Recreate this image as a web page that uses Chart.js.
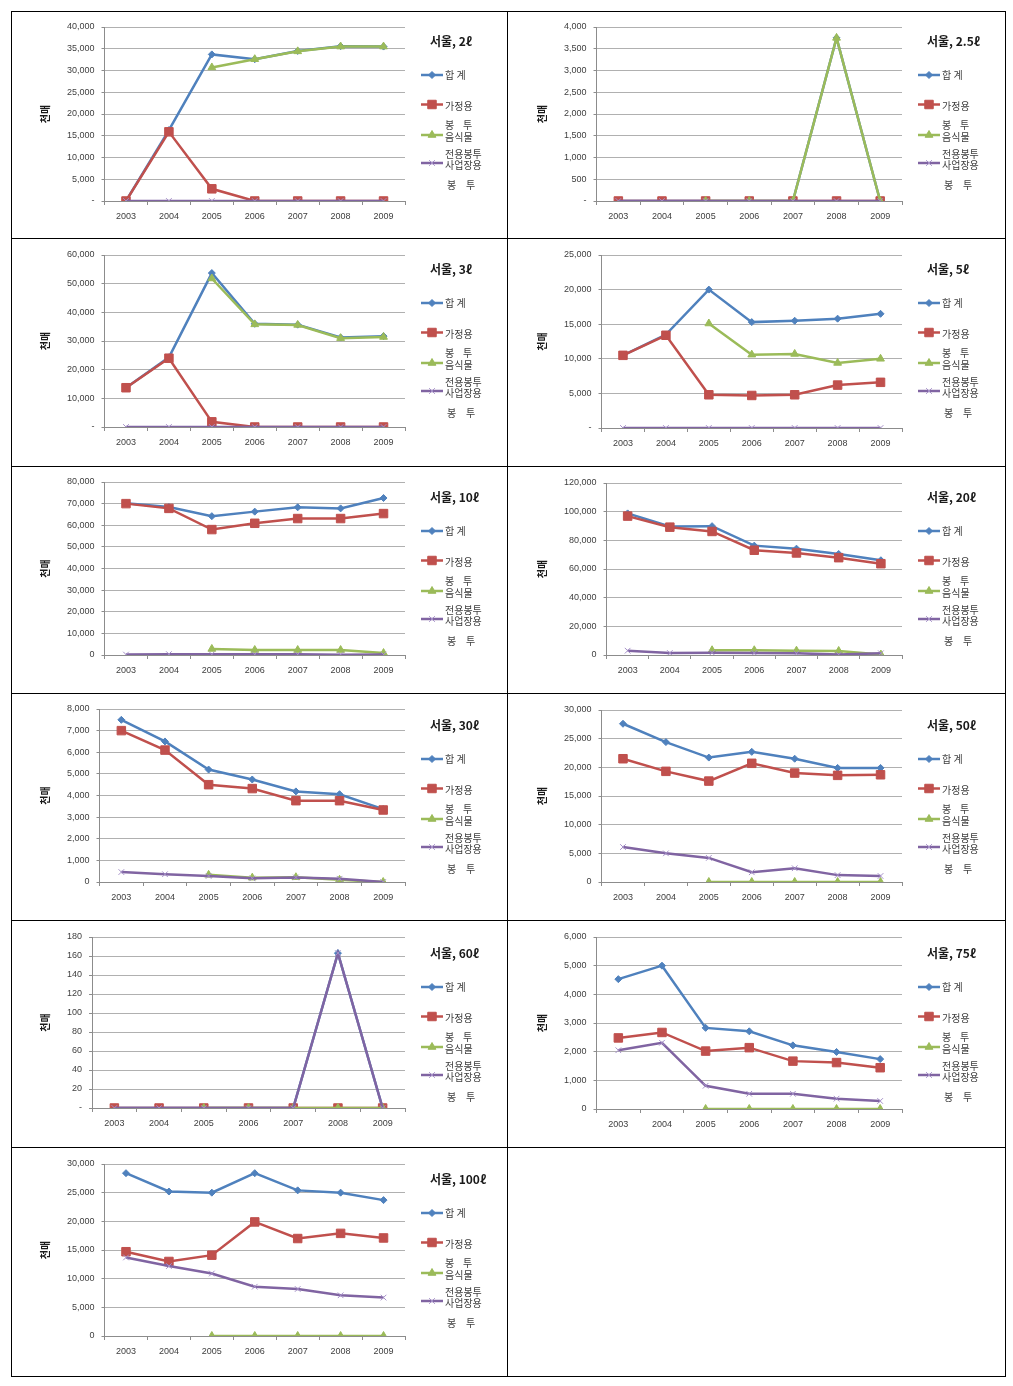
<!DOCTYPE html>
<html><head><meta charset="utf-8">
<script src="https://cdn.jsdelivr.net/npm/chart.js@4.4.1/dist/chart.umd.min.js"></script>
<style>
html,body{margin:0;padding:0;background:#fff;}
#page{position:relative;width:1013px;height:1386px;overflow:hidden;background:#fff;}
canvas{position:absolute;}
.hl{position:absolute;height:1px;background:#000;z-index:5;}
.vl{position:absolute;width:1px;background:#000;z-index:5;}
</style></head><body><div id="page"></div>
<script>
// ---------- data ----------
const years = ['2003','2004','2005','2006','2007','2008','2009'];
const seriesNames = ['합 계', '가정용 봉 투', '음식물 전용봉투', '사업장용 봉 투'];
const yTitle = '천매';

// 서울, 2ℓ
const total_2 = [0, 16300, 33700, 32600, 34500, 35600, 35500];
const house_2 = [0, 15900, 2800, 0, 0, 0, 0];
const food_2  = [null, null, 30700, 32600, 34400, 35500, 35500];
const biz_2   = [0, 0, 0, 0, 0, 0, 0];
// 서울, 2.5ℓ
const total_25 = [0, 0, 0, 0, 0, 3750, 0];
const house_25 = [0, 0, 0, 0, 0, 0, 0];
const food_25  = [null, null, 0, 0, 0, 3750, 0];
const biz_25   = [0, 0, 0, 0, 0, 0, 0];
// 서울, 3ℓ
const total_3 = [13700, 24300, 53700, 36000, 35700, 31200, 31700];
const house_3 = [13700, 24000, 1800, 0, 0, 0, 0];
const food_3  = [null, null, 51800, 35800, 35600, 31000, 31400];
const biz_3   = [0, 0, 0, 0, 0, 0, 0];
// 서울, 5ℓ
const total_5 = [10500, 13500, 20000, 15300, 15500, 15800, 16500];
const house_5 = [10500, 13400, 4800, 4700, 4800, 6200, 6600];
const food_5  = [null, null, 15100, 10600, 10700, 9400, 10000];
const biz_5   = [0, 0, 0, 0, 0, 0, 0];
// 서울, 10ℓ
const total_10 = [70200, 68400, 64200, 66300, 68300, 67800, 72600];
const house_10 = [70000, 67800, 58000, 60900, 63100, 63100, 65400];
const food_10  = [null, null, 2800, 2300, 2300, 2300, 900];
const biz_10   = [200, 400, 300, 300, 300, 100, 200];
// 서울, 20ℓ
const total_20 = [98800, 89700, 89900, 76300, 74200, 70500, 66100];
const house_20 = [96900, 89200, 86200, 73100, 71200, 67900, 63700];
const food_20  = [null, null, 3300, 3300, 3000, 2800, 300];
const biz_20   = [3000, 1400, 1600, 1400, 1200, 300, 1200];
// 서울, 30ℓ
const total_30 = [7500, 6500, 5200, 4740, 4190, 4060, 3370];
const house_30 = [7000, 6100, 4500, 4320, 3760, 3760, 3330];
const food_30  = [null, null, 330, 200, 220, 100, 0];
const biz_30   = [460, 360, 280, 170, 210, 150, 0];
// 서울, 50ℓ
const total_50 = [27600, 24400, 21700, 22700, 21500, 19900, 19900];
const house_50 = [21500, 19300, 17600, 20700, 19000, 18600, 18700];
const food_50  = [null, null, 0, 0, 0, 0, 0];
const biz_50   = [6100, 5000, 4200, 1700, 2400, 1200, 1050];
// 서울, 60ℓ
const total_60 = [0, 0, 0, 0, 0, 163, 0];
const house_60 = [0, 0, 0, 0, 0, 0, 0];
const food_60  = [null, null, 0, 0, 0, 0, 0];
const biz_60   = [0, 0, 0, 0, 0, 163, 0];
// 서울, 75ℓ
const total_75 = [4530, 5000, 2830, 2710, 2220, 1990, 1740];
const house_75 = [2480, 2670, 2020, 2140, 1670, 1620, 1440];
const food_75  = [null, null, 0, 0, 0, 0, 0];
const biz_75   = [2050, 2310, 810, 530, 530, 360, 280];
// 서울, 100ℓ
const total_100 = [28400, 25200, 25000, 28400, 25400, 25000, 23700];
const house_100 = [14700, 13000, 14100, 19900, 17000, 17900, 17100];
const food_100  = [null, null, 0, 0, 0, 0, 0];
const biz_100   = [13700, 12200, 10900, 8600, 8200, 7100, 6700];

// axis maxima / steps
const yMax  = [40000, 4000, 60000, 25000, 80000, 120000, 8000, 30000, 180, 6000, 30000];
const yStep = [5000, 500, 10000, 5000, 10000, 20000, 1000, 5000, 20, 1000, 5000];
const titles = ['서울, 2ℓ','서울, 2.5ℓ','서울, 3ℓ','서울, 5ℓ','서울, 10ℓ','서울, 20ℓ','서울, 30ℓ','서울, 50ℓ','서울, 60ℓ','서울, 75ℓ','서울, 100ℓ'];
const zeroDash = [true, true, true, true, false, false, false, false, true, false, false];
const panelData = [
  [total_2, house_2, food_2, biz_2],
  [total_25, house_25, food_25, biz_25],
  [total_3, house_3, food_3, biz_3],
  [total_5, house_5, food_5, biz_5],
  [total_10, house_10, food_10, biz_10],
  [total_20, house_20, food_20, biz_20],
  [total_30, house_30, food_30, biz_30],
  [total_50, house_50, food_50, biz_50],
  [total_60, house_60, food_60, biz_60],
  [total_75, house_75, food_75, biz_75],
  [total_100, house_100, food_100, biz_100]
];

// ---------- layout / style ----------
const colX = [10, 507];
const rowY = [10, 238, 466, 694, 922, 1148];
const plotTop    = [17, 17, 17, 17, 16, 17, 15, 16, 15, 15, 16];
const plotBottom = [191, 191, 189, 190, 189, 189, 188, 188, 186, 187, 188];
const CW = 497, CH = 228;
const FONT = '"Noto Sans CJK KR", "Noto Sans", sans-serif';
const NUMFONT = '"Liberation Sans", Arial, sans-serif';

const styles = [
  {color:'#4F81BD', point:'rectRot', r:3.5, pfill:'#4F81BD', pborder:'#4F81BD', order:4},
  {color:'#C0504D', point:'rect', r:6, pfill:'#C0504D', pborder:'#C0504D', order:3},
  {color:'#9BBB59', point:'triangle', r:4.5, pfill:'#9BBB59', pborder:'#9BBB59', order:2},
  {color:'#8064A2', point:'crossRot', r:4, pfill:'#a590c8', pborder:'#a590c8', order:1}
];

function drawMarker(ctx, st, x, y) {
  ctx.save();
  ctx.fillStyle = st.pfill; ctx.strokeStyle = st.pborder; ctx.lineWidth = 1;
  const r = st.r;
  ctx.beginPath();
  if (st.point === 'rectRot') {
    ctx.moveTo(x, y - r); ctx.lineTo(x + r, y); ctx.lineTo(x, y + r); ctx.lineTo(x - r, y); ctx.closePath();
    ctx.fill(); ctx.stroke();
  } else if (st.point === 'rect') {
    const s = r * Math.SQRT1_2;
    ctx.rect(x - s, y - s, 2 * s, 2 * s); ctx.fill(); ctx.stroke();
  } else if (st.point === 'triangle') {
    ctx.moveTo(x, y - r);
    ctx.lineTo(x + r * 0.866, y + r * 0.5);
    ctx.lineTo(x - r * 0.866, y + r * 0.5);
    ctx.closePath(); ctx.fill(); ctx.stroke();
  } else {
    const s = r * Math.SQRT1_2;
    ctx.moveTo(x - s, y - s); ctx.lineTo(x + s, y + s);
    ctx.moveTo(x + s, y - s); ctx.lineTo(x - s, y + s);
    ctx.stroke();
  }
  ctx.restore();
}

const sideLegend = {
  id: 'sideLegend',
  afterDraw(chart, args, opts) {
    const ctx = chart.ctx;
    ctx.save();
    ctx.textBaseline = 'middle';
    ctx.textAlign = 'left';
    ctx.fillStyle = '#1a1a1a';
    ctx.font = 'bold 12px ' + FONT;
    ctx.fillText(opts.title, 420, 31);
    const markY = [65, 94.5, 125, 153];
    for (let i = 0; i < 4; i++) {
      const st = styles[i];
      ctx.strokeStyle = st.color; ctx.lineWidth = 2.5;
      ctx.beginPath(); ctx.moveTo(411, markY[i]); ctx.lineTo(433, markY[i]); ctx.stroke();
      drawMarker(ctx, st, 422, markY[i]);
    }
    ctx.fillStyle = '#404040';
    ctx.font = '10px ' + FONT;
    const n = seriesNames;
    const p1 = n[1].split(' '), p2 = n[2].split(' '), p3 = n[3].split(' ');
    ctx.fillText(n[0], 435, 65);
    ctx.fillText(p1[0], 435, 96.5);
    ctx.fillText(p1[1], 435, 115); ctx.fillText(p1[2], 453, 115);
    ctx.fillText(p2[0], 435, 127.5);
    ctx.fillText(p2[1], 435, 144);
    ctx.fillText(p3[0], 435, 155.5);
    ctx.fillText(p3[1], 437, 175); ctx.fillText(p3[2], 456, 175);
    ctx.restore();
  }
};

const page = document.getElementById('page');

panelData.forEach((arrs, k) => {
  const cx = colX[k % 2], cy = rowY[Math.floor(k / 2)];
  const cv = document.createElement('canvas');
  cv.width = CW; cv.height = CH;
  cv.style.left = cx + 'px'; cv.style.top = cy + 'px';
  cv.style.width = CW + 'px'; cv.style.height = CH + 'px';
  page.appendChild(cv);
  const T = plotTop[k], B = plotBottom[k];
  new Chart(cv, {
    type: 'line',
    data: {
      labels: years,
      datasets: arrs.map((d, i) => ({
        label: seriesNames[i],
        data: d,
        borderColor: styles[i].color,
        backgroundColor: styles[i].color,
        borderWidth: 2.5,
        pointStyle: styles[i].point,
        pointRadius: styles[i].r,
        pointBackgroundColor: styles[i].pfill,
        pointBorderColor: styles[i].pborder,
        pointBorderWidth: 1,
        tension: 0,
        fill: false,
        order: styles[i].order
      }))
    },
    options: {
      responsive: false,
      animation: false,
      devicePixelRatio: 1,
      layout: { padding: { top: T, right: CW - 395, bottom: 0, left: 0 } },
      plugins: {
        legend: { display: false },
        tooltip: { enabled: false },
        sideLegend: { title: titles[k] }
      },
      scales: {
        x: {
          type: 'category',
          offset: true,
          afterFit: s => { s.height = CH - B; },
          grid: { offset: true, drawOnChartArea: false, drawTicks: true, tickLength: 4, color: '#8c8c8c' },
          border: { display: true, color: '#8c8c8c', width: 1 },
          ticks: { padding: 6, color: '#404040', font: { size: 9, family: NUMFONT } }
        },
        y: {
          min: 0, max: yMax[k],
          grid: { color: '#b0b0b0', tickColor: '#8c8c8c', drawTicks: true, tickLength: 3, lineWidth: 1 },
          border: { display: true, color: '#8c8c8c', width: 1 },
          ticks: {
            stepSize: yStep[k], padding: 7, color: '#404040',
            font: { size: 9, family: NUMFONT },
            callback: v => v === 0 ? (zeroDash[k] ? '-' : '0') : v.toLocaleString('en-US')
          },
          title: {
            display: true, text: yTitle, color: '#1a1a1a',
            font: { size: 10, weight: 'bold', family: FONT, lineHeight: 1.2 },
            padding: { top: 29, bottom: 9 }
          }
        }
      }
    },
    plugins: [sideLegend]
  });
});

// table borders
[11, 238, 466, 693, 920, 1147, 1376].forEach(y => {
  const d = document.createElement('div'); d.className = 'hl';
  d.style.left = '11px'; d.style.top = y + 'px'; d.style.width = '995px';
  page.appendChild(d);
});
[11, 507, 1005].forEach(x => {
  const d = document.createElement('div'); d.className = 'vl';
  d.style.left = x + 'px'; d.style.top = '11px'; d.style.height = '1366px';
  page.appendChild(d);
});
</script>
</body></html>
